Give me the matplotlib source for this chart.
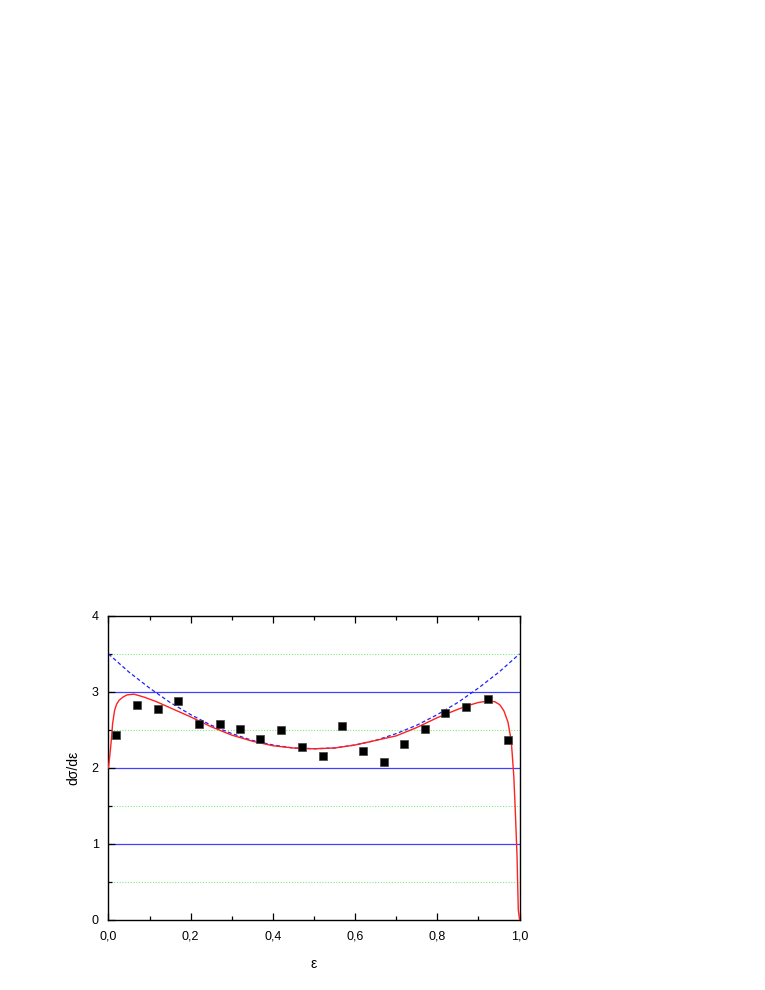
import matplotlib
matplotlib.use('Agg')
import matplotlib.pyplot as plt
from matplotlib.ticker import MultipleLocator

plt.rcParams['font.family'] = ['Liberation Sans', 'DejaVu Sans']

# points mesures
eps_pts = [0.019, 0.070, 0.120, 0.170, 0.221, 0.272, 0.321, 0.368, 0.420, 0.470,
           0.522, 0.568, 0.620, 0.670, 0.719, 0.770, 0.819, 0.870, 0.923, 0.973]
ds_pts = [2.43, 2.83, 2.77, 2.88, 2.58, 2.58, 2.51, 2.38, 2.50, 2.27,
          2.16, 2.55, 2.22, 2.08, 2.31, 2.51, 2.72, 2.80, 2.90, 2.37]

# courbe en tirets (bleue)
eps_dash = [0.0, 0.05, 0.1, 0.15, 0.2, 0.25, 0.3, 0.35, 0.4, 0.45, 0.5,
            0.55, 0.6, 0.65, 0.7, 0.75, 0.8, 0.85, 0.9, 0.95, 1.0]
ds_dash = [3.50, 3.26, 3.05, 2.86, 2.70, 2.56, 2.45, 2.36, 2.30, 2.26, 2.25,
           2.26, 2.30, 2.36, 2.45, 2.56, 2.70, 2.86, 3.05, 3.26, 3.50]

# courbe pleine (rouge)
eps_red = [0.0, 0.004, 0.007, 0.010, 0.015, 0.020, 0.026, 0.035, 0.045, 0.062,
           0.087, 0.117, 0.15, 0.2, 0.25, 0.3, 0.35, 0.4, 0.45, 0.5,
           0.55, 0.6, 0.65, 0.7, 0.75, 0.8, 0.85, 0.875, 0.9, 0.925,
           0.94, 0.952, 0.962, 0.972, 0.980, 0.986, 0.990, 0.994, 0.997, 1.0]
ds_red = [2.00, 2.20, 2.37, 2.58, 2.76, 2.84, 2.89, 2.93, 2.96, 2.97,
          2.93, 2.87, 2.79, 2.67, 2.54, 2.43, 2.35, 2.29, 2.26, 2.25,
          2.26, 2.30, 2.36, 2.42, 2.53, 2.66, 2.77, 2.82, 2.86, 2.88,
          2.87, 2.83, 2.75, 2.60, 2.35, 1.90, 1.40, 0.83, 0.13, 0.0]

fig = plt.figure(figsize=(7.65, 9.9), dpi=100)
ax = fig.add_axes([0.1418, 0.0712, 0.5373, 0.3066])

for yv in [1, 2, 3]:
    ax.axhline(yv, color='#4040ff', lw=0.9, zorder=1)
for yv in [0.5, 1.5, 2.5, 3.5]:
    ax.axhline(yv, color='#80e880', lw=0.8, ls=(0, (1, 1.5)), zorder=1)

ax.plot(eps_dash, ds_dash, color='#2020ff', lw=0.9, ls=(0, (3, 2)), zorder=2)
ax.plot(eps_red, ds_red, color='#ff2020', lw=1.0, zorder=3)
ax.plot(eps_pts, ds_pts, 's', color='black', markersize=6.3,
        markeredgecolor='#444444', markeredgewidth=0.5, zorder=4)

ax.set_xlim(0, 1)
ax.set_ylim(0, 4)
ax.xaxis.set_major_locator(MultipleLocator(0.2))
ax.xaxis.set_minor_locator(MultipleLocator(0.1))
ax.yaxis.set_major_locator(MultipleLocator(1))
ax.yaxis.set_minor_locator(MultipleLocator(0.5))
ax.xaxis.set_major_formatter(plt.FuncFormatter(lambda v, p: ('%.1f' % v).replace('.', ',')))
ax.tick_params(which='both', direction='in', top=True, right=False,
               labelsize=9, width=0.9)
ax.tick_params(which='major', length=5)
ax.tick_params(which='minor', length=3)
ax.tick_params(axis='x', pad=8)
ax.tick_params(axis='y', pad=7)
for s in ax.spines.values():
    s.set_linewidth(1.0)

ax.set_xlabel('\u03b5', fontsize=10, labelpad=10)
ax.set_ylabel('d\u03c3/d\u03b5', fontsize=10, labelpad=8)

fig.savefig('out.png', dpi=100)
